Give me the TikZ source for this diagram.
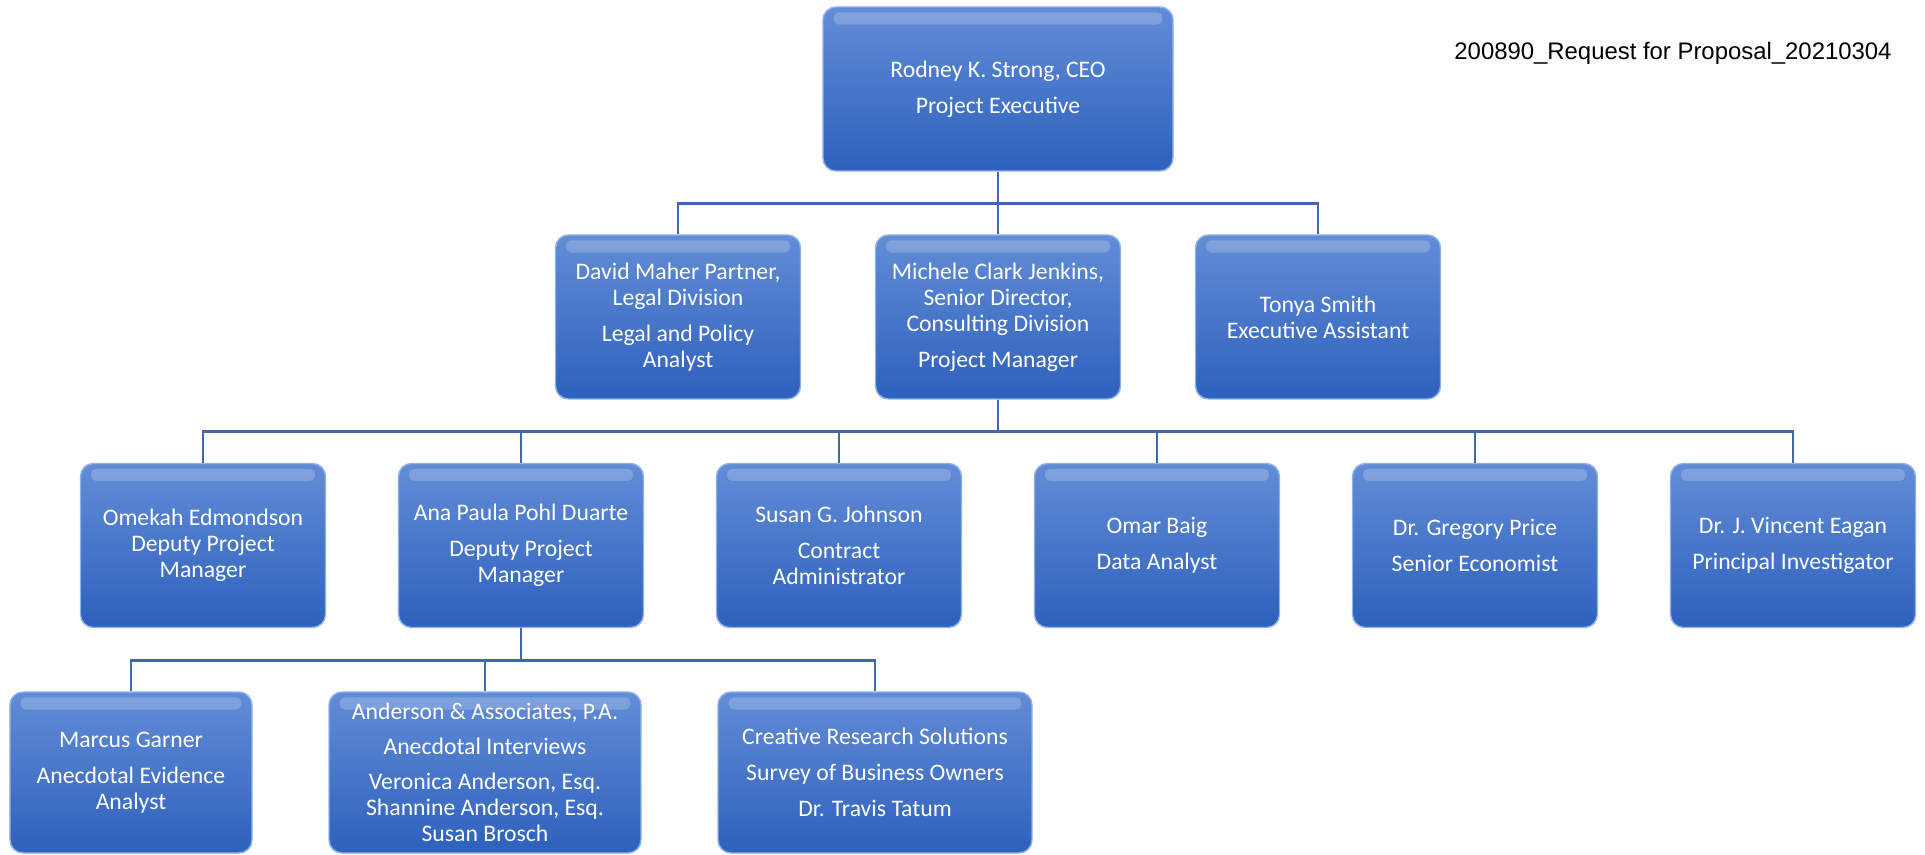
\documentclass[tikz,border=0pt]{standalone}
\usepackage{fontspec}
\setmainfont{Carlito}
\newfontfamily\arialfont{Liberation Sans}
\definecolor{boxtop}{RGB}{98,140,214}
\definecolor{boxbot}{RGB}{46,97,189}
\definecolor{boxedge}{RGB}{140,178,238}
\definecolor{linkblue}{RGB}{66,104,172}

\begin{document}
\begin{tikzpicture}[node distance={6.36cm}, thick,
    main/.style = {draw=boxedge, line width=0.8pt, rounded corners=0.26cm,
      top color=boxtop, bottom color=boxbot, text=white, align=center,
      minimum width=4.9cm, minimum height=3.28cm, inner sep=2pt,
      font=\fontsize{13.5}{14.8}\selectfont,
      path picture={\fill[white, opacity=0.2, rounded corners=3pt]
        ([xshift=6pt, yshift=-3pt]path picture bounding box.north west) rectangle
        ([xshift=-6pt, yshift=-10pt]path picture bounding box.north east);}},
    link/.style = {draw=linkblue, line width=1.6pt}]
  \useasboundingbox (0,0) rectangle (38.5,-17.1);

  \node[main, minimum width=7cm] (1) at (19.96,-1.78) {Rodney K. Strong, CEO\\[5.5pt]Project Executive};
  \node[font=\arialfont\fontsize{13.6}{16}\selectfont] (rfp) at (33.46,-1.06) {200890\_Request for Proposal\_20210304};

  \node[main] (3) [below of=1, node distance=4.56cm] {Michele Clark Jenkins,\\Senior Director,\\Consulting Division\\[5.5pt]Project Manager};
  \node[main] (2) [left of=3, node distance=6.4cm] {David Maher Partner,\\Legal Division\\[5.5pt]Legal and Policy\\Analyst};
  \node[main] (4) [right of=3, node distance=6.4cm] {Tonya Smith\\Executive Assistant};

  \node[main] (5) at (4.06,-10.91) {Omekah Edmondson\\Deputy Project\\Manager};
  \node[main] (6) [right of=5] {Ana Paula Pohl Duarte\\[5.5pt]Deputy Project\\Manager};
  \node[main] (7) [right of=6] {Susan G. Johnson\\[5.5pt]Contract\\Administrator};
  \node[main] (8) [right of=7] {Omar Baig\\[5.5pt]Data Analyst};
  \node[main] (9) [right of=8] {Dr. Gregory Price\\[5.5pt]Senior Economist};
  \node[main] (10) [right of=9] {Dr. J. Vincent Eagan\\[5.5pt]Principal Investigator};

  \node[main, minimum width=4.84cm, minimum height=3.22cm] (11) at (2.62,-15.45) {Marcus Garner\\[5.5pt]Anecdotal Evidence\\Analyst};
  \node[main, minimum width=6.24cm, minimum height=3.22cm] (12) [right of=11, node distance=7.08cm] {Anderson \& Associates, P.A.\\[5pt]Anecdotal Interviews\\[5pt]Veronica Anderson, Esq.\\Shannine Anderson, Esq.\\Susan Brosch};
  \node[main, minimum width=6.28cm, minimum height=3.22cm] (13) [right of=12, node distance=7.8cm] {Creative Research Solutions\\[5.5pt]Survey of Business Owners\\[5.5pt]Dr. Travis Tatum};

  \foreach \n in {2,3,4}
    \draw[link] (1.south) -- ++(0,-0.64) -| (\n.north);
  \foreach \n in {5,...,10}
    \draw[link] (3.south) -- ++(0,-0.64) -| (\n.north);
  \foreach \n in {11,12,13}
    \draw[link] (6.south) -- ++(0,-0.64) -| (\n.north);
\end{tikzpicture}
\end{document}
